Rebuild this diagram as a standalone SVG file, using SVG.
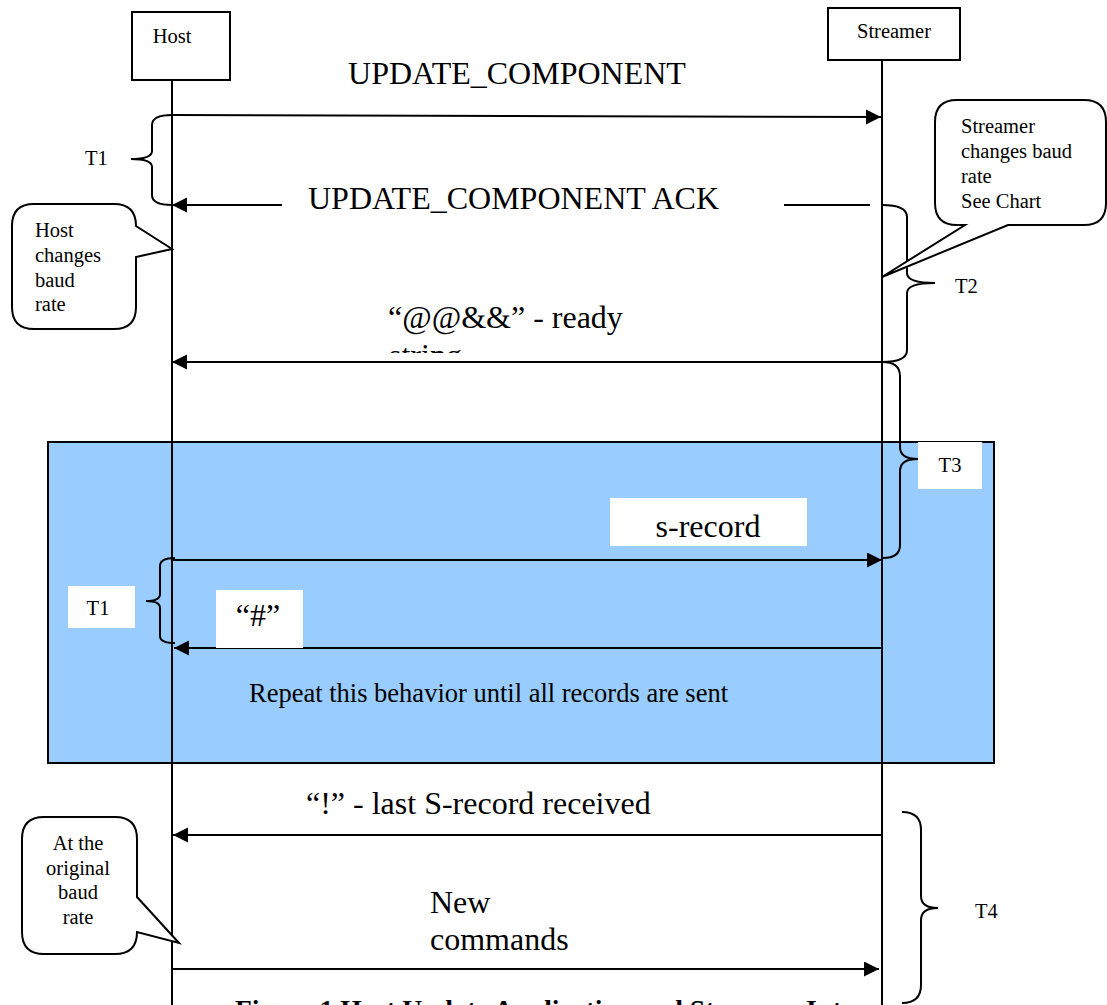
<svg xmlns="http://www.w3.org/2000/svg" width="1107" height="1005" viewBox="0 0 1107 1005">
<style>
text{font-family:"Liberation Serif","Times New Roman",serif;fill:#000}
.big{font-size:32px}
.sm{font-size:20.5px}
.ln{stroke:#000;stroke-width:2;fill:none}
.box{fill:#fff;stroke:#000;stroke-width:2}
.wb{fill:#fff;stroke:none}
.br{fill:none;stroke:#000;stroke-width:2}
</style>
<defs>
<marker id="ah" markerUnits="userSpaceOnUse" markerWidth="16" markerHeight="16" refX="15" refY="7.5" orient="auto">
<path d="M0,0 L15,7.5 L0,15 Z" fill="#000"/>
</marker>
<clipPath id="clipStr"><rect x="300" y="330" width="400" height="23"/></clipPath>
<clipPath id="clipCap"><rect x="200" y="960" width="688" height="60"/></clipPath>
</defs>
<rect x="0" y="0" width="1107" height="1005" fill="#fff"/>

<g id="loop">
<rect x="48" y="442" width="946" height="321" fill="#99ccff" stroke="#000" stroke-width="2"/>
<text x="249" y="702" style="font-size:26.5px">Repeat this behavior until all records are sent</text>
</g>

<g id="host">
<rect class="box" x="132" y="12" width="98" height="68"/>
<text class="sm" x="172" y="43" text-anchor="middle">Host</text>
<line class="ln" x1="172" y1="80" x2="172" y2="1005"/>
</g>

<g id="streamer">
<rect class="box" x="828" y="8" width="132" height="52"/>
<text class="sm" x="894" y="38" text-anchor="middle">Streamer</text>
<line class="ln" x1="882" y1="60" x2="882" y2="1005"/>
</g>

<g id="connectors">
<line class="ln" x1="172" y1="115" x2="881" y2="117" marker-end="url(#ah)"/>
<line class="ln" x1="784" y1="205" x2="870" y2="205"/>
<line class="ln" x1="282" y1="205" x2="172" y2="205" marker-end="url(#ah)"/>
<line class="ln" x1="882" y1="362" x2="172" y2="362" marker-end="url(#ah)"/>
<line class="ln" x1="172" y1="560" x2="882" y2="560" marker-end="url(#ah)"/>
<line class="ln" x1="882" y1="648" x2="174" y2="648" marker-end="url(#ah)"/>
<line class="ln" x1="882" y1="835" x2="173" y2="835" marker-end="url(#ah)"/>
<line class="ln" x1="172" y1="969" x2="879" y2="969" marker-end="url(#ah)"/>
</g>

<g id="labels">
<text class="big" x="517" y="84" text-anchor="middle">UPDATE_COMPONENT</text>
<text class="big" x="308" y="209">UPDATE_COMPONENT ACK</text>
<text class="big" x="388" y="328">“@@&amp;&amp;” - ready</text>
<text class="big" x="389" y="366" clip-path="url(#clipStr)">string</text>
<rect class="wb" x="610" y="498" width="197" height="48"/>
<text class="big" x="708" y="537" text-anchor="middle">s-record</text>
<rect class="wb" x="216" y="590" width="87" height="58"/>
<text class="big" x="258" y="626" text-anchor="middle">“#”</text>
<text class="big" x="306" y="814">“!” - last S-record received</text>
<text class="big" x="430" y="913">New</text>
<text class="big" x="430" y="950">commands</text>
</g>

<g id="brace-t1-top">
<path class="br" d="M172,115 Q152,115 152,125 L152,151 Q152,159 131,159 Q152,159 152,167 L152,195 Q152,205 172,205"/>
<text class="sm" x="85" y="165">T1</text>
</g>

<g id="brace-t2">
<path class="br" d="M882,205 Q907,205 907,217 L907,273 Q907,283 935,283 Q907,283 907,293 L907,350 Q907,362 882,362"/>
<text class="sm" x="955" y="293">T2</text>
</g>

<g id="brace-t3">
<path class="br" d="M882,362 Q900,362 900,376 L900,447 Q900,459 918,459 Q900,459 900,471 L900,545 Q900,558 883,558"/>
<rect class="wb" x="918" y="442" width="64" height="47"/>
<text class="sm" x="950" y="472" text-anchor="middle">T3</text>
</g>

<g id="brace-t1-loop">
<path class="br" d="M175,558 Q160,558 160,566 L160,594 Q160,601 146,601 Q160,601 160,608 L160,636 Q160,643 175,643"/>
<rect class="wb" x="68" y="586" width="67" height="42"/>
<text class="sm" x="98" y="615" text-anchor="middle">T1</text>
</g>

<g id="brace-t4">
<path class="br" d="M902,812 Q921,812 921,830 L921,896 Q921,908 938,908 Q921,908 921,920 L921,985 Q921,1003 902,1003"/>
<text class="sm" x="975" y="918">T4</text>
</g>

<g id="callout-host">
<path class="box" d="M34,204 H114 Q136,204 136,226 L172,249 L136,257 V307 Q136,329 114,329 H34 Q12,329 12,307 V226 Q12,204 34,204 Z"/>
<text class="sm" x="35" y="237">Host</text>
<text class="sm" x="35" y="262">changes</text>
<text class="sm" x="35" y="287">baud</text>
<text class="sm" x="35" y="311">rate</text>
</g>

<g id="callout-streamer">
<path class="box" d="M957,100 H1084 Q1106,100 1106,122 V203 Q1106,225 1084,225 H1008 L882,277 L965,225 H957 Q935,225 935,203 V122 Q935,100 957,100 Z"/>
<text class="sm" x="961" y="133">Streamer</text>
<text class="sm" x="961" y="158">changes baud</text>
<text class="sm" x="961" y="183">rate</text>
<text class="sm" x="961" y="208">See Chart</text>
</g>

<g id="callout-original">
<path class="box" d="M44,817 H115 Q137,817 137,839 V897 L179,943 L137,932 Q137,954 115,954 H44 Q22,954 22,932 V839 Q22,817 44,817 Z"/>
<text class="sm" x="78" y="850" text-anchor="middle">At the</text>
<text class="sm" x="78" y="875" text-anchor="middle">original</text>
<text class="sm" x="78" y="899" text-anchor="middle">baud</text>
<text class="sm" x="78" y="924" text-anchor="middle">rate</text>
</g>

<g id="caption">
<text x="235" y="1019" clip-path="url(#clipCap)" style="font-size:27.6px;font-weight:bold">Figure 1 Host Update Application and Streamer Interaction</text>
</g>
</svg>
